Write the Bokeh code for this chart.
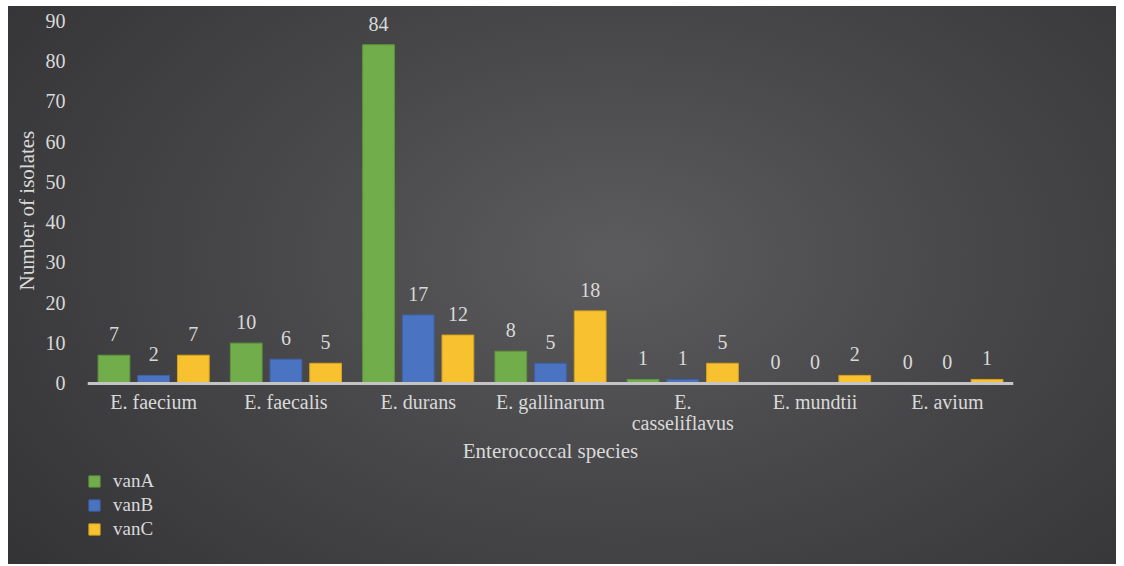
from bokeh.plotting import figure
from bokeh.models import ColumnDataSource, Range1d, FactorRange, Legend, LegendItem, Title
from bokeh.transform import dodge
from bokeh.core.properties import value
from bokeh.embed import file_html
from bokeh.resources import INLINE

species = ["E. faecium", "E. faecalis", "E. durans", "E. gallinarum",
           "E.\ncasseliflavus", "E. mundtii", "E. avium"]
vanA = [7, 10, 84, 8, 1, 0, 0]
vanB = [2, 6, 17, 5, 1, 0, 0]
vanC = [7, 5, 12, 18, 5, 2, 1]
series_names = ["vanA", "vanB", "vanC"]
colors = ["#72ad4c", "#4a74c2", "#f7c12f"]
edge_colors = ["#5e963a", "#3c62a8", "#d9a31c"]
offsets = [-0.3, 0.0, 0.3]
y_ticks = list(range(0, 91, 10))

FONT = "Liberation Serif"
TXT = "#d9d9d9"

source = ColumnDataSource(data=dict(
    species=species, vanA=vanA, vanB=vanB, vanC=vanC,
    lA=[str(v) for v in vanA], lB=[str(v) for v in vanB], lC=[str(v) for v in vanC],
))

p = figure(x_range=FactorRange(*species), y_range=Range1d(-44.9, 92),
           width=1108, height=558, output_backend="svg", toolbar_location=None,
           min_border_left=79, min_border_right=103, min_border_top=6, min_border_bottom=0)
p.margin = (6, 8, 0, 8)

p.styles = {"background-image": "radial-gradient(ellipse 70% 90% at 55% 45%, #5c5c5e 0%, #48484a 45%, #333335 100%)"}
p.background_fill_alpha = 0
p.border_fill_alpha = 0
p.outline_line_color = None
p.grid.grid_line_color = None

renderers = []
for name, col, ec, off, lab in zip(series_names, colors, edge_colors, offsets, ["lA", "lB", "lC"]):
    r = p.vbar(x=dodge("species", off, range=p.x_range), top=name, width=0.24,
               source=source, fill_color=col, line_color=ec, line_width=1)
    renderers.append(r)
    p.text(x=dodge("species", off, range=p.x_range), y=name, text=lab, source=source,
           text_align="center", text_baseline="bottom", y_offset=-14,
           text_font=value(FONT), text_font_size="20px", text_color=TXT)

# y axis (ticks only); its title is a side-panel Title placed along the 0-90 span
p.yaxis.axis_line_color = None
p.yaxis.major_tick_line_color = None
p.yaxis.minor_tick_line_color = None
p.yaxis.ticker = y_ticks
p.yaxis.major_label_standoff = 16
p.yaxis.major_label_text_font = FONT
p.yaxis.major_label_text_font_size = "20px"
p.yaxis.major_label_text_color = TXT

ytitle = Title(text="Number of isolates", align="left", offset=274, vertical_align="middle",
               text_font=FONT, text_font_size="21px", text_font_style="normal",
               text_color=TXT, standoff=6)
p.add_layout(ytitle, "left")

# x axis, drawn at y = 0
p.xaxis.fixed_location = 0
p.xaxis.axis_line_color = "#c4c4c4"
p.xaxis.axis_line_width = 3
p.xaxis.major_tick_line_color = None
p.xaxis.minor_tick_line_color = None
p.xaxis.major_label_standoff = 2
p.xaxis.major_label_text_font = FONT
p.xaxis.major_label_text_font_size = "20px"
p.xaxis.major_label_text_line_height = 0.95
p.xaxis.major_label_text_color = TXT
p.xaxis.axis_label = "Enterococcal species"
p.xaxis.axis_label_text_font = FONT
p.xaxis.axis_label_text_font_size = "21px"
p.xaxis.axis_label_text_font_style = "normal"
p.xaxis.axis_label_text_color = TXT
p.xaxis.axis_label_standoff = 2

legend = Legend(items=[LegendItem(label=n, renderers=[r]) for n, r in zip(series_names, renderers)],
                location=(0, 24), orientation="vertical",
                background_fill_alpha=0, border_line_color=None,
                label_text_font=FONT, label_text_font_size="19px", label_text_color=TXT,
                label_text_line_height=1.0,
                glyph_width=14, glyph_height=14, label_standoff=12, spacing=2,
                label_height=19, padding=0, margin=0)
p.add_layout(legend, "center")

open("out.html", "w").write(file_html(p, INLINE))
